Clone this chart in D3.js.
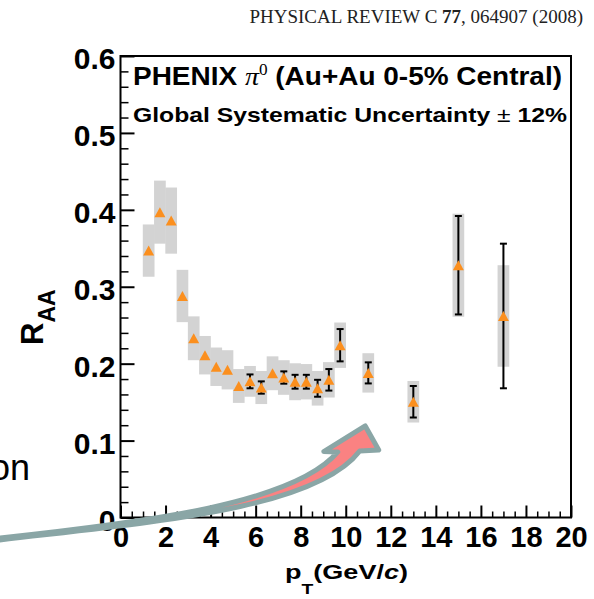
<!DOCTYPE html>
<html>
<head>
<meta charset="utf-8">
<script src="https://cdn.jsdelivr.net/npm/d3@7/dist/d3.min.js"></script>
<style>
  body { margin: 0; background: #fff; }
  svg { display: block; }
</style>
</head>
<body>
<svg id="chart" width="594" height="599"></svg>
<script>
// pi0 R_AA, Au+Au 0-5% central
let pT = [1.25, 1.75, 2.25, 2.75, 3.25, 3.75, 4.25, 4.75, 5.25, 5.75, 6.25,
          6.75, 7.25, 7.75, 8.25, 8.75, 9.25, 9.75, 11, 13, 15, 17];
let raa = [0.347, 0.397, 0.386, 0.288, 0.233, 0.211, 0.196, 0.192, 0.171, 0.177, 0.169,
           0.1875, 0.182, 0.1765, 0.1765, 0.168, 0.179, 0.224, 0.188, 0.1505, 0.328, 0.262];
let statErr = [0.004, 0.004, 0.004, 0.004, 0.004, 0.004, 0.004, 0.004, 0.005, 0.009, 0.008,
               0.006, 0.008, 0.009, 0.009, 0.011, 0.014, 0.021, 0.0137, 0.0205, 0.064, 0.094];
let sysErr = [0.034, 0.041, 0.043, 0.034, 0.0285, 0.025, 0.025, 0.0255, 0.022, 0.020, 0.0215,
              0.022, 0.0225, 0.024, 0.023, 0.0225, 0.023, 0.0295, 0.0256, 0.027, 0.067, 0.066];

let xTicks = [0, 2, 4, 6, 8, 10, 12, 14, 16, 18, 20];
let yTicks = [0, 0.1, 0.2, 0.3, 0.4, 0.5, 0.6];
let yTickLabels = ['0', '0.1', '0.2', '0.3', '0.4', '0.5', '0.6'];

// slide arrow, in (pT, R_AA) units: upper edge, head, lower edge
let arrowUpper = [[-5.565, -0.0273], [1.308, -0.0059], [7.738, 0.0189], [9.645, 0.0852]];
let arrowHead = [[9.024, 0.0858], [10.865, 0.1190], [11.463, 0.0878]];
let arrowLower = [[10.621, 0.0865], [8.625, 0.0098], [1.308, -0.0059], [-5.565, -0.0299]];

let svg = d3.select('#chart');
let sans = 'Liberation Sans, Arial, Helvetica, sans-serif';
let serif = 'Liberation Serif, Times New Roman, serif';

let x = d3.scaleLinear().domain([0, 20]).range([120.5, 571]);
let y = d3.scaleLinear().domain([0, 0.6]).range([517.5, 56]);
let boxHalf = 0.26;
let markerH = 5;

let points = pT.map(function(p, i) {
  return {pt: p, v: raa[i], stat: statErr[i], sys: sysErr[i]};
});

// header
let head = svg.append('text')
  .attr('x', 583)
  .attr('y', 23)
  .attr('text-anchor', 'end')
  .attr('font-family', serif)
  .attr('font-size', 19)
  .attr('fill', '#222');
head.append('tspan').text('PHYSICAL REVIEW C ');
head.append('tspan').attr('font-weight', 'bold').text('77');
head.append('tspan').text(', 064907 (2008)');

// systematic boxes
svg.append('g').selectAll('rect')
  .data(points)
  .join('rect')
  .attr('x', d => x(d.pt - boxHalf))
  .attr('y', d => y(d.v + d.sys))
  .attr('width', d => x(d.pt + boxHalf) - x(d.pt - boxHalf))
  .attr('height', d => y(d.v - d.sys) - y(d.v + d.sys))
  .attr('fill', '#d3d3d3');

// statistical bars (only where they stick out of the marker)
let bars = svg.append('g')
  .attr('stroke', '#000')
  .attr('stroke-width', 2)
  .selectAll('g')
  .data(points.filter(d => y(d.v - d.stat) - y(d.v) > markerH + 0.5))
  .join('g');

bars.append('line')
  .attr('x1', d => x(d.pt)).attr('x2', d => x(d.pt))
  .attr('y1', d => y(d.v + d.stat)).attr('y2', d => y(d.v - d.stat));
bars.append('line')
  .attr('x1', d => x(d.pt) - 3.5).attr('x2', d => x(d.pt) + 3.5)
  .attr('y1', d => y(d.v + d.stat)).attr('y2', d => y(d.v + d.stat));
bars.append('line')
  .attr('x1', d => x(d.pt) - 3.5).attr('x2', d => x(d.pt) + 3.5)
  .attr('y1', d => y(d.v - d.stat)).attr('y2', d => y(d.v - d.stat));

// markers
svg.append('g').selectAll('path')
  .data(points)
  .join('path')
  .attr('d', d => {
    let cx = x(d.pt), cy = y(d.v);
    return 'M' + (cx - 5.5) + ',' + (cy + markerH) + 'L' + cx + ',' + (cy - markerH) +
           'L' + (cx + 5.5) + ',' + (cy + markerH) + 'Z';
  })
  .attr('fill', '#fb8f1e');

// axes
function styleAxis(g, w) {
  g.select('.domain').remove();
  g.selectAll('line').attr('stroke', '#000').attr('stroke-width', w);
  g.selectAll('text')
    .attr('font-family', sans)
    .attr('font-weight', 'bold')
    .attr('font-size', 29)
    .attr('fill', '#000');
}

svg.append('g')
  .attr('transform', 'translate(0,' + y(0) + ')')
  .call(d3.axisBottom(x).tickValues(d3.range(0.5, 20, 0.5).filter(v => v % 2 !== 0))
    .tickSizeInner(-6).tickSizeOuter(0).tickFormat(''))
  .call(g => styleAxis(g, 1.5));

svg.append('g')
  .attr('transform', 'translate(0,' + y(0) + ')')
  .call(d3.axisBottom(x).tickValues(xTicks).tickSizeInner(-12).tickSizeOuter(0)
    .tickPadding(9).tickFormat(d3.format('d')))
  .call(g => styleAxis(g, 2));

svg.append('g')
  .attr('transform', 'translate(' + x(0) + ',0)')
  .call(d3.axisLeft(y).tickValues(d3.range(0.02, 0.6, 0.02).filter(v => Math.abs(v * 10 - Math.round(v * 10)) > 1e-6))
    .tickSizeInner(-8).tickSizeOuter(0).tickFormat(''))
  .call(g => styleAxis(g, 1.5));

svg.append('g')
  .attr('transform', 'translate(' + x(0) + ',0)')
  .call(d3.axisLeft(y).tickValues(yTicks).tickSizeInner(-14).tickSizeOuter(0)
    .tickPadding(5).tickFormat((d, i) => yTickLabels[i]))
  .call(g => styleAxis(g, 2))
  .call(g => g.selectAll('text').attr('font-size', 30).attr('dy', '0.42em'));

// frame
svg.append('rect')
  .attr('x', x(0))
  .attr('y', y(0.6))
  .attr('width', x(20) - x(0))
  .attr('height', y(0) - y(0.6))
  .attr('fill', 'none')
  .attr('stroke', '#000')
  .attr('stroke-width', 2);

// legend text
let l1 = svg.append('text')
  .attr('x', 133)
  .attr('y', 85)
  .attr('font-family', sans)
  .attr('font-weight', 'bold')
  .attr('font-size', 26)
  .attr('textLength', 429)
  .attr('lengthAdjust', 'spacingAndGlyphs');
l1.append('tspan').text('PHENIX ');
l1.append('tspan').attr('font-family', serif).attr('font-weight', 'normal').attr('font-style', 'italic').text('\u03c0');
l1.append('tspan').attr('font-family', serif).attr('font-weight', 'normal').attr('font-size', 16).attr('dy', -10).text('0');
l1.append('tspan').attr('dy', 10).text(' (Au+Au 0-5% Central)');

let l2 = svg.append('text')
  .attr('x', 133)
  .attr('y', 121.5)
  .attr('font-family', sans)
  .attr('font-weight', 'bold')
  .attr('font-size', 21)
  .attr('textLength', 434)
  .attr('lengthAdjust', 'spacingAndGlyphs');
l2.append('tspan').text('Global Systematic Uncertainty ');
l2.append('tspan').attr('font-weight', 'normal').text('\u00b1');
l2.append('tspan').text(' 12%');

// axis titles
let yt = svg.append('text')
  .attr('transform', 'translate(43,345) rotate(-90)')
  .attr('font-family', sans)
  .attr('font-weight', 'bold')
  .attr('font-size', 31);
yt.append('tspan').text('R');
yt.append('tspan').attr('font-size', 23).attr('dy', 12).text('AA');

let xt = svg.append('text')
  .attr('x', 285)
  .attr('y', 579)
  .attr('font-family', sans)
  .attr('font-weight', 'bold')
  .attr('font-size', 21)
  .attr('textLength', 123)
  .attr('lengthAdjust', 'spacingAndGlyphs');
xt.append('tspan').text('p');
xt.append('tspan').attr('font-size', 15).attr('dy', 15).text('T');
xt.append('tspan').attr('dy', -15).text('(GeV/');
xt.append('tspan').attr('font-style', 'italic').text('c');
xt.append('tspan').text(')');

// leftover slide text, clipped by the left edge as in the source
svg.append('text')
  .attr('x', 30)
  .attr('y', 480)
  .attr('text-anchor', 'end')
  .attr('font-family', sans)
  .attr('font-size', 36)
  .attr('fill', '#000')
  .text('on');

// arrow
function pt(p) { return x(p[0]) + ',' + y(p[1]); }
let arrowPath = 'M' + pt(arrowUpper[0]) +
  'C' + pt(arrowUpper[1]) + ' ' + pt(arrowUpper[2]) + ' ' + pt(arrowUpper[3]) +
  'L' + pt(arrowHead[0]) + 'L' + pt(arrowHead[1]) + 'L' + pt(arrowHead[2]) +
  'L' + pt(arrowLower[0]) +
  'C' + pt(arrowLower[1]) + ' ' + pt(arrowLower[2]) + ' ' + pt(arrowLower[3]) + 'Z';

svg.append('path')
  .attr('d', arrowPath)
  .attr('fill', '#fa8282')
  .attr('stroke', '#8aa6a6')
  .attr('stroke-width', 5)
  .attr('stroke-linejoin', 'round');
</script>
</body>
</html>
